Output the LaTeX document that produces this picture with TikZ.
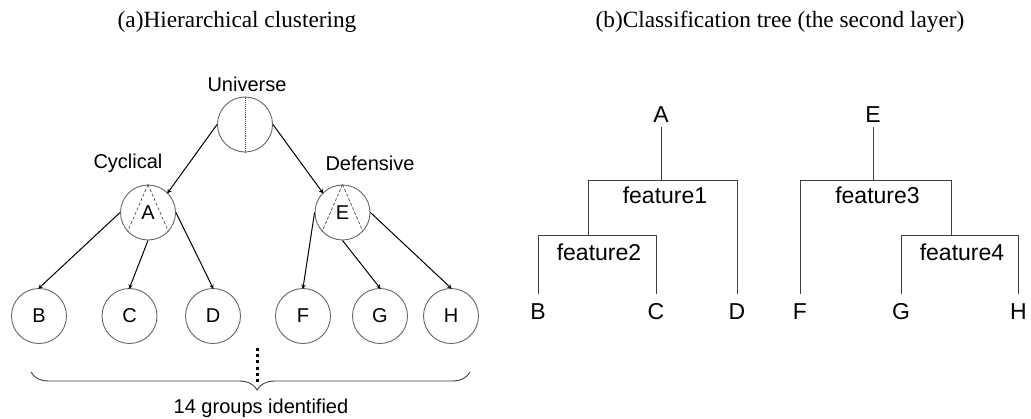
\documentclass[tikz,border=0pt]{standalone}
\usepackage{fontspec}
\setmainfont{Liberation Serif}
\newfontfamily\lsans{Liberation Sans}
\usetikzlibrary{arrows,decorations.pathreplacing}

\tikzset{
  grp/.style={circle,draw=black!60,line width=0.9pt,minimum size=55pt,inner sep=0pt,font=\lsans\fontsize{20}{24}\selectfont},
  lab/.style={font=\lsans\fontsize{20}{24}\selectfont,inner sep=1pt},
  ttl/.style={font=\fontsize{23.3}{28}\selectfont,inner sep=0pt},
  leaf/.style={font=\lsans\fontsize{23}{27}\selectfont,inner xsep=0pt,inner ysep=10pt},
  root/.style={font=\lsans\fontsize{23}{27}\selectfont,inner xsep=0pt,inner ysep=4pt},
  feat/.style={font=\lsans\fontsize{23}{27}\selectfont,inner sep=0pt},
  tree/.style={draw=black!75,line width=0.9pt},
  arr/.style={->,>=stealth,line width=1pt,shorten >=-1pt},
}

\begin{document}
\begin{tikzpicture}[x=1pt,y=-1pt]
	\useasboundingbox (0,0) rectangle (1031,418);
	% titles
	\node (ta) [ttl] at (237,22) {(a)Hierarchical clustering};
	\node (tb) [ttl] at (780,22) {(b)Classification tree (the second layer)};

	% (a) clustering
	\node (U) [grp] at (245,124.5) {};
	\node (A) [grp] at (148,212.5) {A};
	\node (E) [grp] at (342.5,212.5) {E};
	\node (B) [grp] at (39,316) {B};
	\node (C) [grp] at (129.5,316) {C};
	\node (D) [grp] at (213,316) {D};
	\node (F) [grp] at (303,316) {F};
	\node (G) [grp] at (380,316) {G};
	\node (H) [grp] at (451,316) {H};
	\node (lu) [lab] at (247,84) {Universe};
	\node (lc) [lab] at (128,163) {Cyclical};
	\node (ld) [lab] at (370,163) {Defensive};

	\draw [densely dotted,line width=0.9pt,black!70] (U.north) -- (U.south);
	\draw [densely dashed,line width=0.7pt,black!70] (A.north) -- (A.223);
	\draw [densely dashed,line width=0.7pt,black!70] (A.north) -- (A.317);
	\draw [densely dashed,line width=0.7pt,black!70] (E.north) -- (E.223);
	\draw [densely dashed,line width=0.7pt,black!70] (E.north) -- (E.317);

	\draw [arr] (U.west) -- (A.north east);
	\draw [arr] (U.east) -- (E.north west);
	\draw [arr] (A.west) -- (B.north);
	\draw [arr] (A.south) -- (C.north);
	\draw [arr] (A.east) -- (D.north);
	\draw [arr] (E.west) -- (F.north);
	\draw [arr] (E.south) -- (G.north);
	\draw [arr] (E.east) -- (H.north);

	\coordinate (d1) at (257,348);
	\coordinate (d2) at (257,382);
	\draw [line width=3pt,dash pattern=on 3pt off 3.2pt] (d1) -- (d2);
	\coordinate (b1) at (31,372);
	\coordinate (b2) at (470,372);
	\draw [black!75,line width=0.9pt,decorate,decoration={brace,amplitude=18pt,mirror,aspect=0.515}] (b1) -- (b2);
	\node (n14) [lab] at (261,408) {14 groups identified};

	% (b) tree
	\node (tA) [root] at (661,115) {A};
	\node (tB) [leaf] at (538,312) {B};
	\node (tC) [leaf] at (656,312) {C};
	\node (tD) [leaf] at (737,312) {D};
	\node (f1) [feat] at (665,195) {feature1};
	\node (f2) [feat] at (599,252) {feature2};
	\coordinate (k1) at (588,180);
	\coordinate (k2) at (538,235);

	\draw [tree] (tA) -- (tA |- k1);
	\draw [tree] (k1) -- (tD.north |- k1) -- (tD.north);
	\draw [tree] (k1) -- (k1 |- k2);
	\draw [tree] (tB.north) -- (k2) -- (tC.north |- k2) -- (tC.north);

	\node (tE) [root] at (873,115) {E};
	\node (tF) [leaf] at (800,312) {F};
	\node (tG) [leaf] at (901,312) {G};
	\node (tH) [leaf] at (1018.5,312) {H};
	\node (f3) [feat] at (877.5,195) {feature3};
	\node (f4) [feat] at (962,252) {feature4};
	\coordinate (k3) at (951.5,180);
	\coordinate (k4) at (901,235);

	\draw [tree] (tE) -- (tE |- k3);
	\draw [tree] (tF.north) -- (tF.north |- k3) -- (k3);
	\draw [tree] (k3) -- (k3 |- k4);
	\draw [tree] (tG.north) -- (k4) -- (tH.north |- k4) -- (tH.north);
\end{tikzpicture}
\end{document}
